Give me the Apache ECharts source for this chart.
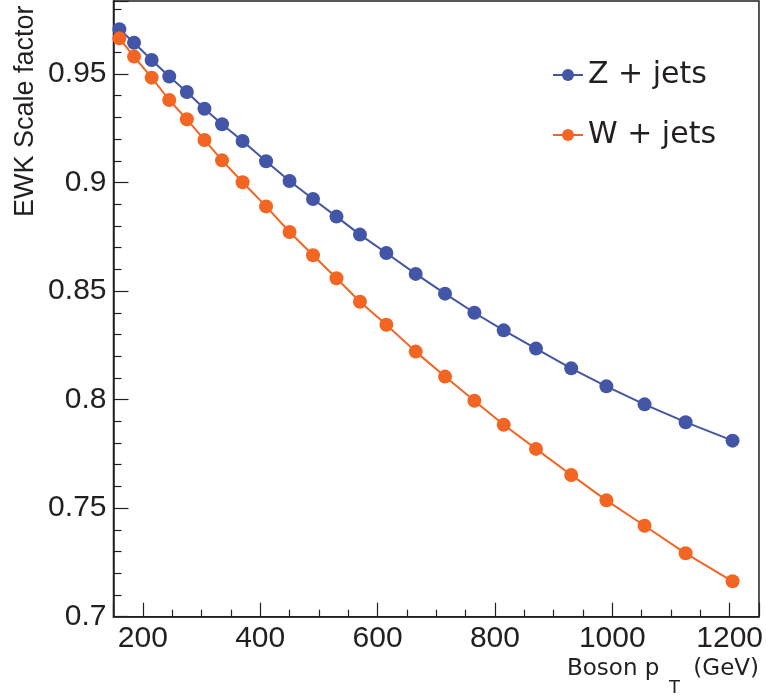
<!DOCTYPE html>
<html>
<head>
<meta charset="utf-8">
<script src="https://cdn.jsdelivr.net/npm/echarts@6/dist/echarts.min.js"></script>
<style>
  html, body { margin: 0; padding: 0; background: #fff; }
  #chart { width: 766px; height: 696px; }
</style>
</head>
<body>
<div id="chart"></div>
<script>
// bin centres of boson pT (GeV)
var ptBins = [160, 185, 215, 245, 275, 305, 335, 370, 410, 450, 490, 530,
              570, 615, 665, 715, 765, 815, 870, 930, 990, 1055, 1125, 1205];
var zJets = [0.9706, 0.9644, 0.9564, 0.9488, 0.9417, 0.9340, 0.9268, 0.9191,
             0.9098, 0.9007, 0.8924, 0.8843, 0.8760, 0.8675, 0.8579, 0.8488,
             0.8400, 0.8319, 0.8235, 0.8144, 0.8061, 0.7978, 0.7896, 0.7811];
var wJets = [0.9664, 0.9580, 0.9483, 0.9380, 0.9291, 0.9196, 0.9102, 0.9001,
             0.8890, 0.8772, 0.8665, 0.8559, 0.8451, 0.8345, 0.8221, 0.8106,
             0.7995, 0.7884, 0.7773, 0.7653, 0.7536, 0.7419, 0.7292, 0.7163];
var seriesNames = ['Z + jets', 'W + jets'];

var FONT = '"Liberation Sans", Arial, Helvetica, sans-serif';
var WIDE = '"DejaVu Sans", "Liberation Sans", sans-serif';
var INK = '#231f20';

function pairs(ys) {
    return ptBins.map(function (x, i) { return [x, ys[i]]; });
}

var chart = echarts.init(document.getElementById('chart'));

var option = {
    animation: false,
    backgroundColor: '#fff',
    grid: {
        left: 113.5, right: 5, top: 1, bottom: 79.3,
        show: true, borderColor: INK, borderWidth: 1.5
    },
    legend: {
        orient: 'vertical',
        left: 552, top: 60, padding: 0,
        itemWidth: 30, itemHeight: 15, itemGap: 30,
        textStyle: { fontFamily: WIDE, fontSize: 30, color: INK },
        data: seriesNames
    },
    xAxis: {
        type: 'value', min: 150, max: 1250, splitNumber: 5,
        axisLine: { onZero: false, lineStyle: { color: INK, width: 1.5 } },
        axisTick: { inside: true, length: 14, lineStyle: { color: INK, width: 1.2 } },
        minorTick: { show: true, splitNumber: 4, length: 7, lineStyle: { color: INK, width: 1.2 } },
        axisLabel: { showMinLabel: false, showMaxLabel: false, margin: 7,
                     fontFamily: FONT, fontSize: 30, color: INK,
                     formatter: function (v) { return String(v); } },
        splitLine: { show: false }
    },
    yAxis: {
        type: 'value', min: 0.7, max: 0.9836, interval: 0.05,
        axisLine: { lineStyle: { color: INK, width: 1.5 } },
        axisTick: { inside: true, length: 15, lineStyle: { color: INK, width: 1.2 } },
        minorTick: { show: true, splitNumber: 5, length: 8, lineStyle: { color: INK, width: 1.2 } },
        axisLabel: { showMaxLabel: false, margin: 7,
                     fontFamily: FONT, fontSize: 30, color: INK },
        splitLine: { show: false }
    },
    graphic: [
        {
            type: 'text', x: 26, y: 217, rotation: Math.PI / 2,
            style: { text: 'EWK Scale factor', fontFamily: FONT, fontSize: 27,
                     fill: INK, align: 'left', verticalAlign: 'middle' }
        },
        // x axis title: Boson p_T (GeV)
        {
            type: 'text', x: 567, y: 669,
            style: { text: 'Boson p', fontFamily: WIDE, fontSize: 23, fill: INK,
                     align: 'left', verticalAlign: 'middle' }
        },
        {
            type: 'text', x: 669, y: 688,
            style: { text: 'T', fontFamily: WIDE, fontSize: 18, fill: INK,
                     align: 'left', verticalAlign: 'middle' }
        },
        {
            type: 'text', x: 759, y: 669,
            style: { text: '(GeV)', fontFamily: WIDE, fontSize: 23, fill: INK,
                     align: 'right', verticalAlign: 'middle' }
        }
    ],
    series: [
        {
            name: seriesNames[0], type: 'line', data: pairs(zJets),
            symbol: 'circle', symbolSize: 14, showAllSymbol: true,
            itemStyle: { color: '#4355a6' },
            lineStyle: { color: '#4355a6', width: 2 }
        },
        {
            name: seriesNames[1], type: 'line', data: pairs(wJets),
            symbol: 'circle', symbolSize: 14, showAllSymbol: true,
            itemStyle: { color: '#f26522' },
            lineStyle: { color: '#f26522', width: 2 }
        }
    ]
};

chart.setOption(option);
</script>
</body>
</html>
